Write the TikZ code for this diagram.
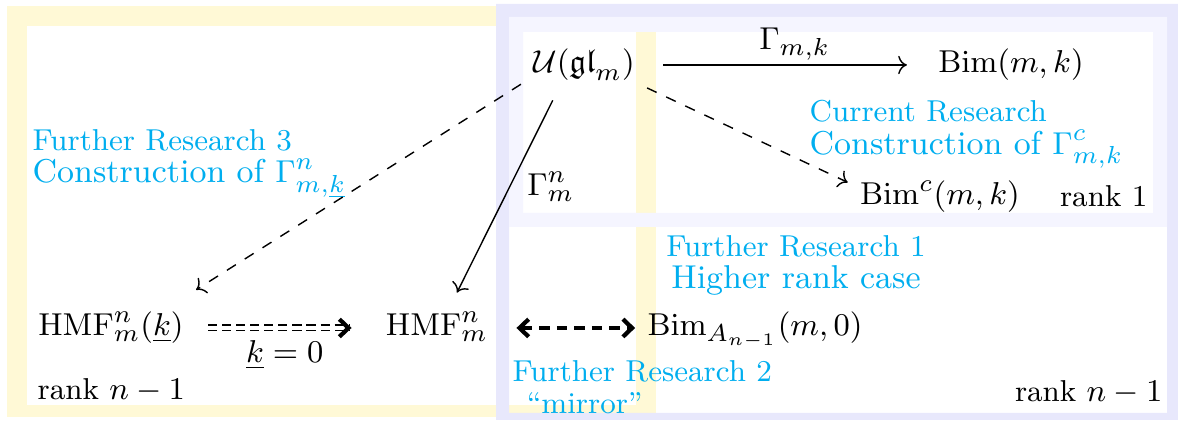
\documentclass[tikz,border=0pt]{standalone}
\usepackage{amssymb}
\usetikzlibrary{arrows.meta}
\definecolor{resblue}{RGB}{0,174,239}
\definecolor{bgyellow}{RGB}{255,249,214}
\definecolor{bgblue}{RGB}{232,232,252}
\definecolor{bglight}{RGB}{245,245,255}
\newcommand{\lgtext}{\fontsize{9.4}{9.4}\selectfont}
\tikzset{
obj/.style={font=\fontsize{9.4}{11}\selectfont,text height=7pt,text depth=2.5pt},
lab/.style={font=\fontsize{9.4}{11}\selectfont},
note/.style={text=resblue,font=\fontsize{8.6}{9.2}\selectfont,inner sep=0pt},
rk/.style={font=\fontsize{8.6}{10}\selectfont,inner sep=0pt},
barb/.style={-{Straight Barb[length=2.6pt,width=5pt,line width=1.2pt]}},
barbs/.style={{Straight Barb[length=2.6pt,width=5pt,line width=1.2pt]}-{Straight Barb[length=2.6pt,width=5pt,line width=1.2pt]}},
}
\begin{document}
\begin{tikzpicture}[x=1mm,y=1mm]
\useasboundingbox (0,0) rectangle (117.8,42.3);
\fill[bgyellow] (0.7,0.6) rectangle (65.6,41.7);
\fill[white] (2.7,1.8) rectangle (63.6,39.7);
\fill[bgblue,even odd rule] (49.6,0.3) rectangle (117.8,41.9) (50.9,1.0) rectangle (116.7,40.6);
\fill[bglight,even odd rule] (50.9,19.6) rectangle (116.7,40.6) (52.3,21.0) rectangle (115.3,39.1);
\node[obj] (u) at (58.4,35.8) {$\mathcal{U}(\mathfrak{gl}_m)$};
\node[obj] (bim) at (101.1,35.8) {$\mathrm{Bim}(m,k)$};
\node[obj] (bimc) at (94.0,22.6) {$\mathrm{Bim}^c(m,k)$};
\node[obj] (hmfk) at (11.1,9.5) {$\mathrm{HMF}^n_m(\underline{k})$};
\node[obj] (hmf) at (43.7,9.5) {$\mathrm{HMF}^n_m$};
\node[obj] (bima) at (75.5,9.5) {$\mathrm{Bim}_{A_{n-1}}(m,0)$};
\node[note,align=left,anchor=north west] (fr3) at (3.2,29.4) {Further Research 3\\{\lgtext Construction of $\Gamma^n_{m,\underline{k}}$}};
\node[note,align=left,anchor=north west] (cur) at (80.9,32.3) {Current Research\\{\lgtext Construction of $\Gamma^c_{m,k}$}};
\node[note,align=center,anchor=north] (fr1) at (79.6,18.8) {Further Research 1\\{\lgtext Higher rank case}};
\node[note,align=left,anchor=north west] (fr2) at (51.2,6.3) {Further Research 2\\\hspace{4pt}``mirror''};
\node[rk,anchor=base east] (r1) at (114.8,21.6) {rank 1};
\node[rk,anchor=base west] (rl) at (3.7,2.3) {rank $n-1$};
\node[rk,anchor=base east] (rr) at (116.3,2.1) {rank $n-1$};
\draw[->,shorten <=1.6mm,shorten >=1.9mm] (u) -- (bim) node[pos=0.53,above,yshift=-0.8mm,lab] {$\Gamma_{m,k}$};
\draw[dashed,->] (u.-20) -- (bimc.171);
\draw[->,shorten <=0.7mm,shorten >=0.7mm] (u.-134) -- (hmf.60) node[pos=0.45,right,xshift=0.5mm,lab] {$\Gamma^n_m$};
\draw[dashed,->] (u.197) -- ([yshift=0.9mm]hmfk.north east);
\draw[double,line width=0.5pt,double distance=1pt,dash pattern=on 2.6pt off 1.4pt,shorten <=1.2mm,shorten >=2.4mm] (hmfk) -- (hmf) node[midway,below,lab] {$\underline{k}=0$};
\draw[barb] ([xshift=-2.7mm]hmf.west) -- ([xshift=-2.2mm]hmf.west);
\draw[line width=1pt,dash pattern=on 3pt off 2pt,barbs,shorten <=1.6mm] (hmf) -- (bima);
\end{tikzpicture}
\end{document}
